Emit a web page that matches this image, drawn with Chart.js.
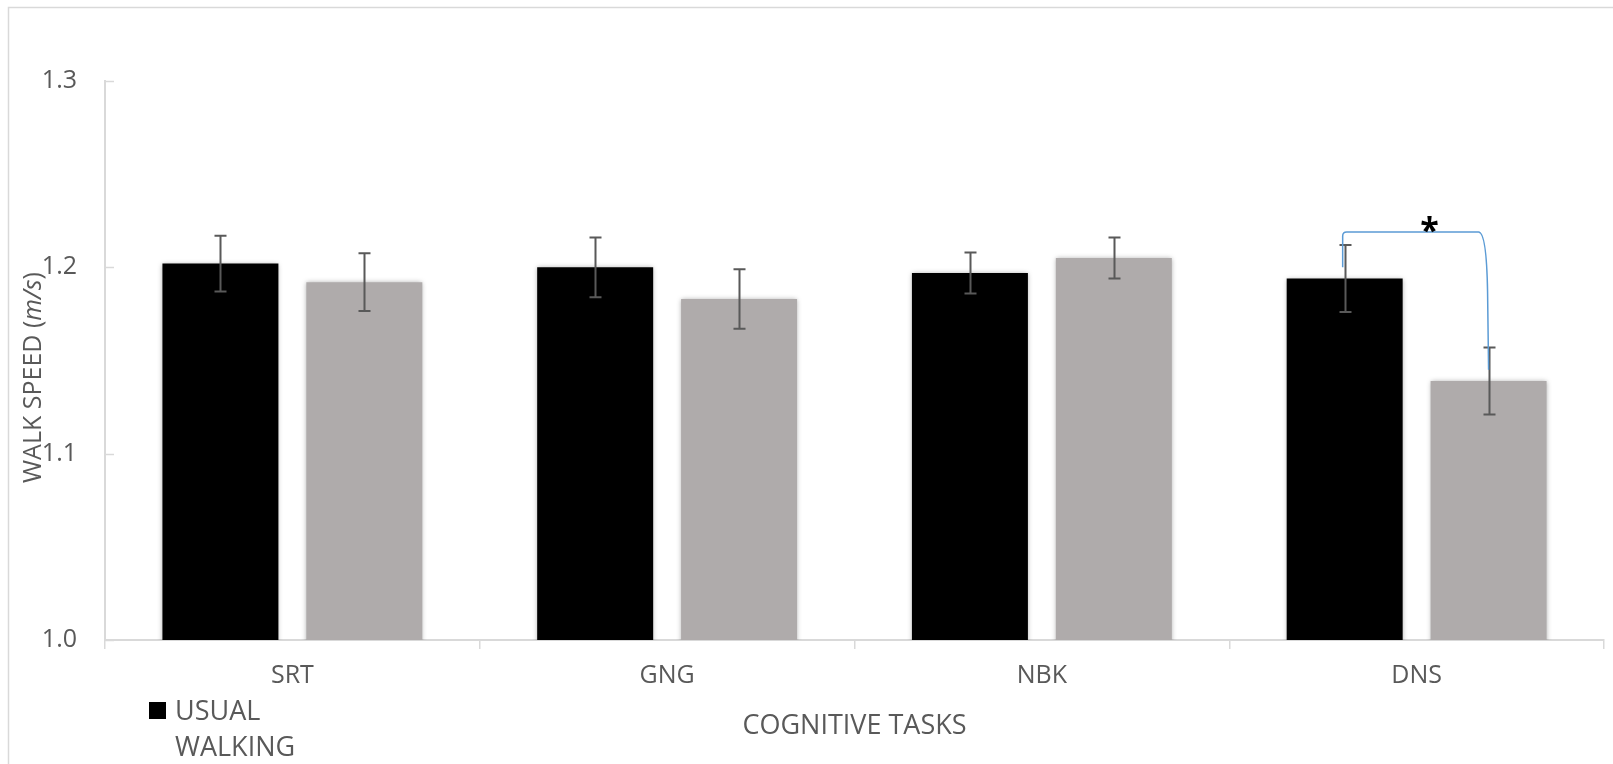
<!DOCTYPE html>
<html>
<head>
<meta charset="utf-8">
<script src="https://cdn.jsdelivr.net/npm/chart.js@4"></script>
<style>
  html, body { margin: 0; padding: 0; background: #fff; overflow: hidden; }
  #wrap { width: 1613px; height: 764px; }
</style>
</head>
<body>
<div id="wrap"><canvas id="speedChart" width="1613" height="764"></canvas></div>
<script>
// chart values
const tasks = ['SRT', 'GNG', 'NBK', 'DNS'];
const usualWalking = [1.202, 1.200, 1.197, 1.194];
const dualTaskWalking = [1.192, 1.183, 1.205, 1.139];
const usualErr = [0.015, 0.016, 0.011, 0.018];
const dualErr = [0.0155, 0.016, 0.011, 0.018];
const seriesNames = ['USUAL WALKING', 'DUAL-TASK WALKING'];
// significance bracket on DNS: top level, left leg end, right leg end
const bracketLevels = [1.219, 1.200, 1.145];

const FONT = '"Open Sans", Lato, sans-serif';
const TEXT = '#595959';
const AXIS = '#D9D9D9';

// frame, y title, inward y ticks, legend
const decorPlugin = {
    id: 'decor',
    beforeDraw(chart) {
        const ctx = chart.ctx;
        ctx.save();
        ctx.strokeStyle = AXIS;
        ctx.lineWidth = 1.5;
        ctx.beginPath();
        ctx.moveTo(8.5, 800);
        ctx.lineTo(8.5, 7.5);
        ctx.lineTo(1700, 7.5);
        ctx.stroke();
        ctx.restore();
    },
    afterDraw(chart) {
        const ctx = chart.ctx;
        const y = chart.scales.y;
        const area = chart.chartArea;
        ctx.save();

        // inward tick marks
        ctx.strokeStyle = AXIS;
        ctx.lineWidth = 1.5;
        y.ticks.forEach((t, i) => {
            const py = Math.round(y.getPixelForTick(i)) + 0.5;
            ctx.beginPath();
            ctx.moveTo(area.left, py);
            ctx.lineTo(area.left + 9, py);
            ctx.stroke();
        });

        // y axis title with italic units
        ctx.translate(34, (area.top + area.bottom) / 2 + 17);
        ctx.rotate(-Math.PI / 2);
        ctx.fillStyle = TEXT;
        ctx.textBaseline = 'middle';
        const parts = [['WALK SPEED (', 'normal'], ['m/s', 'italic'], [')', 'normal']];
        let total = 0;
        parts.forEach(p => { ctx.font = p[1] + ' 25px ' + FONT; total += ctx.measureText(p[0]).width; });
        let x = -total / 2;
        parts.forEach(p => {
            ctx.font = p[1] + ' 25px ' + FONT;
            ctx.fillText(p[0], x, 0);
            x += ctx.measureText(p[0]).width;
        });
        ctx.restore();

        // legend (only first entry is visible in the figure)
        ctx.save();
        ctx.fillStyle = chart.data.datasets[0].backgroundColor;
        ctx.fillRect(149, 702, 17, 17);
        ctx.fillStyle = TEXT;
        ctx.font = '27px ' + FONT;
        ctx.textBaseline = 'alphabetic';
        const words = chart.data.datasets[0].label.split(' ');
        words.forEach((w, i) => ctx.fillText(w, 175, 720 + i * 36));

        // x axis title
        ctx.textAlign = 'center';
        ctx.fillText('COGNITIVE TASKS', (area.left + area.right) / 2, 734);
        ctx.restore();
    }
};

// bar shadows, error bars, significance bracket
const errorPlugin = {
    id: 'errorBars',
    beforeDatasetsDraw(chart) {
        const ctx = chart.ctx;
        ctx.save();
        ctx.shadowColor = 'rgba(0,0,0,0.35)';
        ctx.shadowBlur = 5;
    },
    afterDatasetsDraw(chart) {
        const ctx = chart.ctx;
        ctx.restore();
        const y = chart.scales.y;
        const errs = [usualErr, dualErr];
        ctx.save();
        ctx.strokeStyle = '#595959';
        ctx.lineWidth = 2;
        chart.data.datasets.forEach((ds, di) => {
            chart.getDatasetMeta(di).data.forEach((bar, i) => {
                const v = ds.data[i];
                const e = errs[di][i];
                const top = y.getPixelForValue(v + e);
                const bot = y.getPixelForValue(v - e);
                const cx = Math.round(bar.x) + 0.5;
                ctx.beginPath();
                ctx.moveTo(cx, top); ctx.lineTo(cx, bot);
                ctx.moveTo(cx - 6, top); ctx.lineTo(cx + 6, top);
                ctx.moveTo(cx - 6, bot); ctx.lineTo(cx + 6, bot);
                ctx.stroke();
            });
        });

        // bracket between DNS bars
        const idx = tasks.indexOf('DNS');
        const x1 = chart.getDatasetMeta(0).data[idx].x - 2;
        const x2 = chart.getDatasetMeta(1).data[idx].x;
        const yt = y.getPixelForValue(bracketLevels[0]);
        const yl = y.getPixelForValue(bracketLevels[1]);
        const yr = y.getPixelForValue(bracketLevels[2]);
        ctx.strokeStyle = '#5B9BD5';
        ctx.lineWidth = 1.5;
        ctx.beginPath();
        ctx.moveTo(x1, yl);
        ctx.lineTo(x1, yt + 4);
        ctx.quadraticCurveTo(x1, yt, x1 + 4, yt);
        ctx.lineTo(x2 - 10, yt);
        ctx.quadraticCurveTo(x2 - 2, yt, x2 - 1, yt + 60);
        ctx.lineTo(x2, yr);
        ctx.stroke();

        ctx.fillStyle = '#000';
        ctx.font = 'bold 34px ' + FONT;
        ctx.textAlign = 'center';
        ctx.textBaseline = 'alphabetic';
        ctx.fillText('*', (x1 + x2) / 2 + 14, yt + 10);
        ctx.restore();
    }
};

new Chart(document.getElementById('speedChart'), {
    type: 'bar',
    data: {
        labels: tasks,
        datasets: [
            {
                label: seriesNames[0],
                data: usualWalking,
                backgroundColor: '#000000',
                categoryPercentage: 0.768,
                barPercentage: 0.806
            },
            {
                label: seriesNames[1],
                data: dualTaskWalking,
                backgroundColor: '#AFABAB',
                categoryPercentage: 0.768,
                barPercentage: 0.806
            }
        ]
    },
    options: {
        responsive: false,
        animation: false,
        layout: { padding: { top: 81, right: 9, left: 0, bottom: 0 } },
        plugins: {
            legend: { display: false },
            tooltip: { enabled: false }
        },
        scales: {
            x: {
                grid: { drawOnChartArea: false, color: AXIS, tickLength: 9, lineWidth: 1.5 },
                border: { color: AXIS, width: 2 },
                ticks: { color: TEXT, font: { family: FONT, size: 25 }, padding: 12 },
                afterFit: s => { s.height = 124; }
            },
            y: {
                min: 1.0,
                max: 1.3,
                grid: { display: false, drawTicks: false },
                border: { color: AXIS, width: 2 },
                ticks: {
                    stepSize: 0.1,
                    color: TEXT,
                    font: { family: FONT, size: 25 },
                    padding: 28,
                    callback: v => Number(v).toFixed(1)
                },
                afterFit: s => { s.width = 105; }
            }
        }
    },
    plugins: [decorPlugin, errorPlugin]
});
</script>
</body>
</html>
